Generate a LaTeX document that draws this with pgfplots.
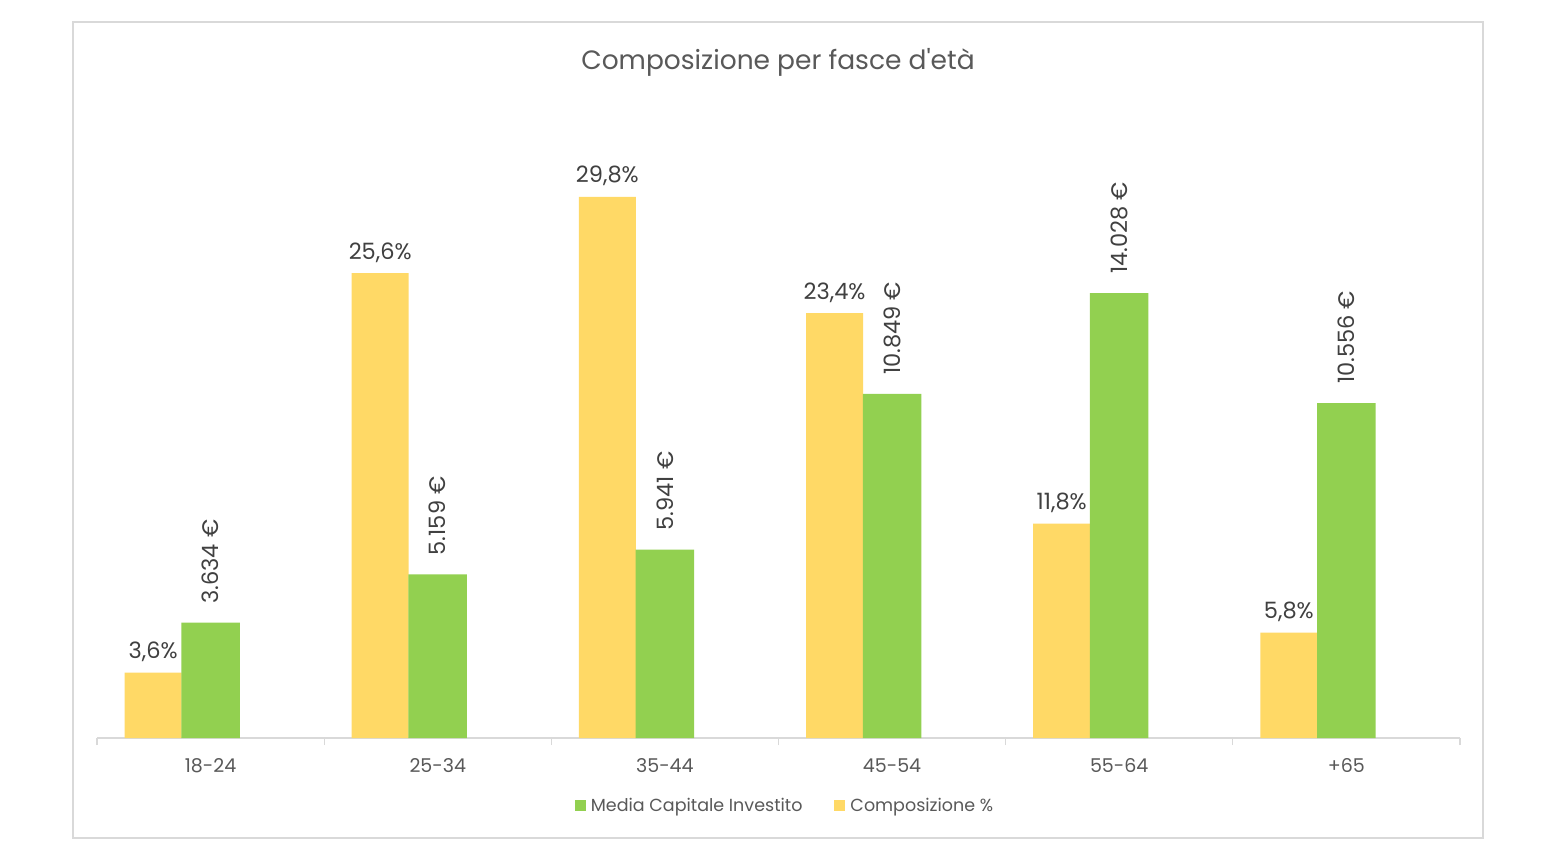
\documentclass[border=0pt]{standalone}
\usepackage{fontspec}
\setmainfont{Poppins}[Ligatures=TeXOff]
\usepackage{pgfplots}
\pgfplotsset{compat=1.18}
\usepackage{pgfplotstable}

\definecolor{barYellow}{HTML}{FFD966}
\definecolor{barGreen}{HTML}{92D050}
\definecolor{axisGrey}{HTML}{D9D9D9}
\definecolor{txtGrey}{HTML}{595959}
\definecolor{lblGrey}{HTML}{404040}

% age band, share of investors (%), average invested capital (EUR)
\pgfplotstableread{
idx quota capitale
0   3.6   3634
1   25.6  5159
2   29.8  5941
3   23.4  10849
4   11.8  14028
5   5.8   10556
}\fasce

\pgfplotsset{
  common/.style={
    at={(97pt,117pt)}, anchor=south west,
    scale only axis, width=1363pt, height=628pt,
    xmin=-0.5, xmax=5.5, ymin=0,
    ybar,
    /pgf/number format/assume math mode=true,
  },
  squarelegend/.style={
    legend image code/.code={\fill[#1, draw=none] (0pt,-5.5pt) rectangle (11pt,5.5pt); \path[draw=none, fill=none] (0pt,0pt) -- (14pt,0pt);}
  },
}

\begin{document}
\begin{tikzpicture}
\fill[white] (0pt,0pt) rectangle (1566pt,855pt);
\useasboundingbox (0pt,0pt) rectangle (1566pt,855pt);
\draw[axisGrey, line width=1.5pt] (73pt,17pt) rectangle (1483pt,833pt);
\node[text=txtGrey, font=\fontsize{26.5}{30}\selectfont, anchor=base] at (778pt,785pt) {Composizione per fasce d'età};

% share of investors, left scale
\begin{axis}[common,
  ymax=34.58,
  axis x line*=bottom, axis y line=none,
  x axis line style={axisGrey, line width=1.2pt},
  xtick={0,...,5},
  xticklabels={18-24,25-34,35-44,45-54,55-64,+65},
  major tick length=0pt,
  minor xtick={-0.5,0.5,1.5,2.5,3.5,4.5,5.5},
  minor tick length=7pt,
  xtick align=outside,
  minor x tick style={axisGrey, line width=1.2pt},
  xticklabel style={font=\fontsize{19}{22}\selectfont, text=txtGrey, anchor=base, yshift=-34pt},
  bar width=57pt, bar shift=-57.5pt,
  nodes near coords={\pgfmathprintnumber[fixed,fixed zerofill,precision=1,use comma]{\pgfplotspointmeta}\%},
  every node near coord/.append style={font=\fontsize{22.5}{26}\selectfont, text=lblGrey, anchor=base, yshift=14pt},
]
\addplot[fill=barYellow, draw=none] table[x=idx, y=quota] {\fasce};
\end{axis}

% average invested capital, right scale (hidden)
\begin{axis}[common,
  ymax=19798,
  hide axis,
  bar width=58.5pt, bar shift=0pt,
  nodes near coords={\pgfmathprintnumber[fixed,precision=0,1000 sep={.}]{\pgfplotspointmeta}~€},
  every node near coord/.append style={font=\fontsize{22.5}{26}\selectfont, text=lblGrey, rotate=90, anchor=west, inner xsep=19pt},
  legend columns=2,
  legend style={at={(0.5048,-0.108)}, anchor=center, draw=none, fill=none,
    font=\fontsize{17.5}{20}\selectfont, text=txtGrey,
    /tikz/every even column/.append style={column sep=30pt}},
]
\addplot[fill=barGreen, draw=none, forget plot] table[x=idx, y=capitale] {\fasce};
\addlegendimage{squarelegend=barGreen}
\addlegendentry{Media Capitale Investito}
\addlegendimage{squarelegend=barYellow}
\addlegendentry{Composizione \%}
\end{axis}
\end{tikzpicture}
\end{document}
